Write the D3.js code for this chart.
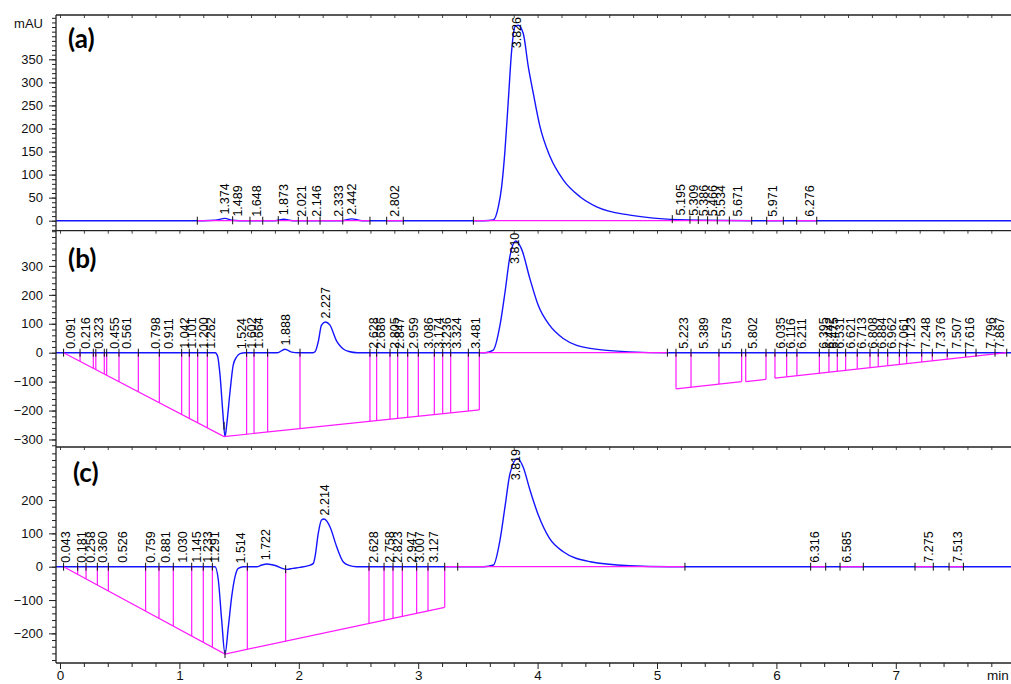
<!DOCTYPE html>
<html><head><meta charset="utf-8">
<script src="https://cdn.jsdelivr.net/npm/d3@7"></script>
<style>
body{margin:0;background:#fff;}
svg{display:block;font-family:"Liberation Sans",Arial,sans-serif;}
</style>
</head><body>
<svg id="chart" width="1011" height="684"></svg>
<script>
// ---------------- DATA ----------------
// Chromatogram traces [time (min), signal (mAU)]
const traceA = [[-0.05,0],[0.5,0],[1.2,0],[1.3,1],[1.382,5],[1.44,1],[1.5,0],[1.8,0],[1.873,3],[1.95,0],[2.36,0],[2.443,4],[2.53,0],[3.55,0],[3.629,1.5],[3.671,30],[3.699,74],[3.727,153],[3.755,262],[3.783,370],[3.811,421],[3.838,424],[3.88,406],[3.922,334],[3.964,276],[4.02,204],[4.104,139],[4.216,88],[4.355,52],[4.495,30],[4.774,12],[5.053,4],[5.4,1],[5.8,0],[8.3,0]];
const traceB = [[-0.05,0],[1.0,0],[1.30,0],[1.32,-12],[1.34,-76],[1.363,-202],[1.382,-290],[1.396,-250],[1.424,-135],[1.451,-42],[1.48,-14],[1.508,-3],[1.55,0],[1.82,0],[1.884,12],[1.94,2],[2.0,0],[2.12,0],[2.136,3],[2.163,38],[2.19,95],[2.222,106],[2.261,95],[2.317,40],[2.345,24],[2.373,13],[2.42,4],[2.49,0],[3.56,0],[3.629,9],[3.685,95],[3.727,209],[3.769,335],[3.817,386],[3.866,358],[3.936,255],[4.006,163],[4.10,95],[4.215,49],[4.44,15],[4.77,3],[5.1,0],[8.3,0]];
const traceC = [[-0.05,0],[1.0,0],[1.298,0],[1.326,-40],[1.354,-160],[1.382,-262],[1.41,-180],[1.438,-90],[1.466,-30],[1.493,-5],[1.535,0],[1.647,0],[1.69,5],[1.731,8],[1.775,6],[1.815,2],[1.86,-5],[1.899,-8],[1.95,-5],[2.01,-2],[2.08,3],[2.122,10],[2.136,30],[2.163,100],[2.19,140],[2.211,143],[2.261,120],[2.317,60],[2.373,14],[2.42,4],[2.485,0],[3.55,0],[3.63,5],[3.685,80],[3.727,180],[3.769,280],[3.833,325],[3.878,300],[3.936,230],[4.006,155],[4.10,85],[4.215,45],[4.44,15],[4.77,3],[5.1,0],[8.3,0]];

// Peak retention-time labels
const labelsA = ["1.374","1.489","1.648","1.873","2.021","2.146","2.333","2.442","2.802","3.826","5.195","5.309","5.386","5.466","5.534","5.671","5.971","6.276"];
const labelsB = ["0.091","0.216","0.323","0.455","0.561","0.798","0.911","1.042","1.101","1.200","1.262","1.524","1.602","1.664","1.888","2.227","2.628","2.686","2.805","2.847","2.959","3.086","3.174","3.236","3.324","3.481","3.810","5.223","5.389","5.578","5.802","6.035","6.116","6.211","6.395","6.442","6.475","6.531","6.621","6.713","6.808","6.884","6.962","7.061","7.123","7.248","7.376","7.507","7.616","7.796","7.867"];
const labelsC = ["0.043","0.181","0.258","0.360","0.526","0.759","0.881","1.030","1.145","1.233","1.291","1.514","1.722","2.214","2.628","2.758","2.823","2.947","3.007","3.127","3.819","6.316","6.585","7.275","7.513"];

// Integration baselines (polylines of [time, mAU])
const baselinesA = [[[1.150,0],[2.596,0]],[[2.736,0],[2.875,0]],[[3.462,0],[5.793,0]],[[5.919,0],[6.058,0]],[[6.17,0],[6.338,0]]];
const baselinesB = [[[0.03,0],[1.374,-290],[3.512,-198]],[[3.512,0],[5.095,0]],[[5.159,-125],[5.709,-100]],[[5.743,-100],[5.913,-92]],[[5.988,-88],[7.929,0]]];
const baselinesC = [[[0.03,0],[1.382,-262],[3.222,-122]],[[3.222,0],[5.234,0]],[[6.287,0],[6.413,0]],[[6.533,0],[6.728,0]],[[7.161,0],[7.314,0]],[[7.446,0],[7.566,0]]];

// Peak boundary drop lines (times)
const dropsA = [];
const dropsB = [0.168,0.279,0.30,0.371,0.391,0.494,0.656,0.832,1.019,1.083,1.153,1.234,1.563,1.625,1.739,2.01,2.596,2.652,2.764,2.828,2.912,3.001,3.135,3.205,3.272,3.42,3.512,5.159,5.285,5.519,5.709,5.743,5.913,5.988,6.086,6.172,6.36,6.44,6.51,6.58,6.677,6.784,6.853,6.932,7.03,7.091,7.217,7.306,7.431,7.585,7.672,7.831];
const dropsC = [0.148,0.218,0.313,0.405,0.717,0.829,0.949,1.103,1.2,1.276,1.569,1.89,2.588,2.714,2.789,2.867,2.987,3.082,3.222];

// Peak start/end tick markers (times)
const marksA = [1.150,1.446,1.591,1.698,1.828,1.996,2.071,2.178,2.368,2.596,2.736,2.875,3.462,5.128,5.276,5.346,5.424,5.505,5.606,5.793,5.919,6.058,6.17,6.338];
const marksB = [0.03,1.374,5.087,7.929];
const marksC = [0.03,1.382,3.331,5.234,6.287,6.413,6.533,6.728,7.161,7.314,7.446,7.566];

// Axis ticks
const yTicksA = [0,50,100,150,200,250,300,350];
const yTicksB = [-300,-200,-100,0,100,200,300];
const yTicksC = [-200,-100,0,100,200];
const xTicks = [0,1,2,3,4,5,6,7];

// ---------------- DRAW ----------------
const svg = d3.select("#chart");
const axisLeftX = 56, rightX = 1011;
const x = d3.scaleLinear().domain([0, 8]).range([60, 60 + 8 * 119.4]);

const panels = [
  {name:"(a)", top:15, bottom:230.7, dom:[-21.7,446.1], trace:traceA, labels:labelsA, bases:baselinesA, drops:dropsA, marks:marksA, major:yTicksA, minor:d3.range(-20,441,10), lx:68, ly:48},
  {name:"(b)", top:230.7, bottom:447, dom:[-326,421.7], trace:traceB, labels:labelsB, bases:baselinesB, drops:dropsB, marks:marksB, major:yTicksB, minor:d3.range(-320,421,20), lx:68, ly:268},
  {name:"(c)", top:447, bottom:663, dom:[-288.9,359.1], trace:traceC, labels:labelsC, bases:baselinesC, drops:dropsC, marks:marksC, major:yTicksC, minor:d3.range(-280,359,20), lx:73, ly:482}
];

const bis = d3.bisector(d => d[0]).left;
function valAt(arr, t) {
  let i = bis(arr, t);
  if (i <= 0) return arr[0][1];
  if (i >= arr.length) return arr[arr.length-1][1];
  const a = arr[i-1], b = arr[i];
  return a[1] + (b[1]-a[1]) * (t - a[0]) / (b[0] - a[0]);
}
function baseAt(bases, t) {
  let best = null;
  bases.forEach(pl => {
    for (let i = 1; i < pl.length; i++) {
      const a = pl[i-1], b = pl[i];
      if (t >= a[0] - 1e-9 && t <= b[0] + 1e-9 && b[0] > a[0]) {
        const v = a[1] + (b[1]-a[1]) * (t - a[0]) / (b[0] - a[0]);
        if (best === null || v < best) best = v;
      }
    }
  });
  return best === null ? 0 : best;
}

const defs = svg.append("defs");

panels.forEach((p, pi) => {
  const y = d3.scaleLinear().domain(p.dom).range([p.bottom, p.top]);
  const clipId = "clip" + pi;
  defs.append("clipPath").attr("id", clipId).append("rect")
    .attr("x", axisLeftX).attr("y", p.top).attr("width", rightX - axisLeftX).attr("height", p.bottom - p.top);

  // y axis minor
  svg.append("g").attr("transform", `translate(${axisLeftX},0)`)
    .call(d3.axisLeft(y).tickValues(p.minor).tickSize(4).tickFormat(""))
    .call(g => g.select(".domain").remove())
    .call(g => g.selectAll("line").attr("stroke", "#222"));
  // y axis major
  svg.append("g").attr("transform", `translate(${axisLeftX},0)`)
    .call(d3.axisLeft(y).tickValues(p.major).tickSize(7).tickPadding(6))
    .call(g => g.select(".domain").remove())
    .call(g => g.selectAll("line").attr("stroke", "#222"))
    .call(g => g.selectAll("text").attr("font-size", 13).attr("fill", "#111").attr("font-family", '"Liberation Sans", Arial, sans-serif'));

  // top border minor ticks
  svg.append("g").attr("transform", `translate(0,${p.top})`)
    .call(d3.axisBottom(x).tickValues(d3.range(0, 8.2, 0.2)).tickSize(3).tickFormat(""))
    .call(g => g.select(".domain").remove())
    .call(g => g.selectAll("line").attr("stroke", "#444"));

  const plot = svg.append("g").attr("clip-path", `url(#${clipId})`);

  // trace
  const line = d3.line().x(d => x(d[0])).y(d => y(d[1])).curve(d3.curveMonotoneX);
  plot.append("path").datum(p.trace).attr("d", line)
    .attr("fill", "none").attr("stroke", "#1414ff").attr("stroke-width", 1.4);

  // baselines
  const bl = d3.line().x(d => x(d[0])).y(d => y(d[1]));
  plot.selectAll(null).data(p.bases).join("path").attr("d", bl)
    .attr("fill", "none").attr("stroke", "#ff19ff").attr("stroke-width", 1.2);

  // drop lines
  plot.selectAll(null).data(p.drops).join("line")
    .attr("x1", d => x(d)).attr("x2", d => x(d))
    .attr("y1", d => y(valAt(p.trace, d))).attr("y2", d => y(baseAt(p.bases, d)))
    .attr("stroke", "#ff19ff").attr("stroke-width", 1.2);

  // marker ticks
  const allMarks = p.marks.concat(p.drops);
  plot.selectAll(null).data(allMarks).join("line")
    .attr("x1", d => x(d)).attr("x2", d => x(d))
    .attr("y1", d => y(valAt(p.trace, d)) - 4).attr("y2", d => y(valAt(p.trace, d)) + 4)
    .attr("stroke", "#111").attr("stroke-width", 1);

  // peak labels
  const lg = svg.append("g");
  p.labels.forEach(s => {
    const t = +s;
    const t0 = lg.append("text").attr("font-size", 12.5).attr("fill", "#000").text(s);
    const len = t0.node().getComputedTextLength();
    let yb = y(valAt(p.trace, t)) - 4;
    if (yb - len < p.top + 2) yb = p.top + 2 + len;
    const xc = x(t) + 4.5;
    t0.attr("transform", `translate(${xc},${yb}) rotate(-90)`);
  });

  // panel label
  svg.append("text").attr("x", p.lx).attr("y", p.ly)
    .attr("font-family", "Lato, 'Open Sans', sans-serif").attr("font-weight", "bold")
    .attr("font-size", 26).attr("fill", "#000").text(p.name);

  // top border line
  svg.append("line").attr("x1", axisLeftX).attr("x2", rightX).attr("y1", p.top).attr("y2", p.top)
    .attr("stroke", "#222").attr("stroke-width", 1.3);
});

// mAU label
svg.append("text").attr("x", 43).attr("y", 28).attr("text-anchor", "end")
  .attr("font-size", 13).attr("fill", "#111").text("mAU");

// left axis line
svg.append("line").attr("x1", axisLeftX).attr("x2", axisLeftX).attr("y1", 15).attr("y2", 663)
  .attr("stroke", "#222").attr("stroke-width", 1.3);

// bottom x axis
const bottomY = 663;
svg.append("g").attr("transform", `translate(0,${bottomY})`)
  .call(d3.axisBottom(x).tickValues(d3.range(0, 8.2, 0.2).filter(v => Math.abs(v - Math.round(v)) > 1e-6)).tickSize(4).tickFormat(""))
  .call(g => g.select(".domain").remove())
  .call(g => g.selectAll("line").attr("stroke", "#222"));
svg.append("g").attr("transform", `translate(0,${bottomY})`)
  .call(d3.axisBottom(x).tickValues(xTicks).tickSize(6).tickPadding(1).tickFormat(d3.format("d")))
  .call(g => g.select(".domain").remove())
  .call(g => g.selectAll("line").attr("stroke", "#222"))
  .call(g => g.selectAll("text").attr("font-size", 13.5).attr("fill", "#111").attr("font-family", '"Liberation Sans", Arial, sans-serif'));
svg.append("line").attr("x1", axisLeftX).attr("x2", rightX).attr("y1", bottomY).attr("y2", bottomY)
  .attr("stroke", "#222").attr("stroke-width", 1.3);
svg.append("text").attr("x", 987).attr("y", 680).attr("font-size", 13.5).attr("fill", "#111").text("min");
</script>
</body></html>
